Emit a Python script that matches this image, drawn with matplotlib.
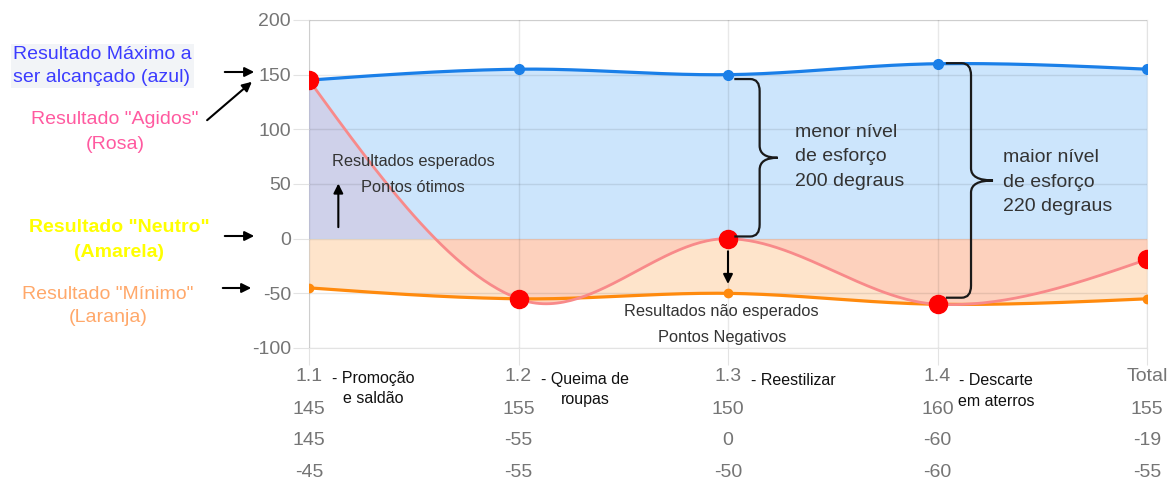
import numpy as np
import matplotlib
matplotlib.use('Agg')
import matplotlib.pyplot as plt
from matplotlib.path import Path
from matplotlib.patches import PathPatch, FancyArrowPatch
import matplotlib.transforms as mtransforms

plt.rcParams['font.family'] = ['Liberation Sans', 'DejaVu Sans']
plt.rcParams['axes.unicode_minus'] = False

categorias = ['1.1', '1.2', '1.3', '1.4', 'Total']
descricoes = ['- Promoção\ne saldão', '- Queima de\nroupas', '- Reestilizar',
              '- Descarte\nem aterros', '']
maximo = [145, 155, 150, 160, 155]    # azul
agidos = [145, -55, 0, -60, -19]      # rosa
minimo = [-45, -55, -50, -60, -55]    # laranja
y_ticks = [-100, -50, 0, 50, 100, 150, 200]

W, H = 1175, 487


def suave(ys, n=60):
    # curva cubica que passa pelos pontos (tangentes tipo catmull-rom)
    ys = np.asarray(ys, float)
    k = len(ys)
    m = np.zeros(k)
    m[1:-1] = (ys[2:] - ys[:-2]) / 2
    m[0] = (3 * (ys[1] - ys[0]) - m[1]) / 2
    m[-1] = (3 * (ys[-1] - ys[-2]) - m[-2]) / 2
    xs_out, ys_out = [], []
    for i in range(k - 1):
        t = np.linspace(0, 1, n, endpoint=(i == k - 2))
        h00 = 2 * t**3 - 3 * t**2 + 1
        h10 = t**3 - 2 * t**2 + t
        h01 = -2 * t**3 + 3 * t**2
        h11 = t**3 - t**2
        xs_out.append(i + t)
        ys_out.append(h00 * ys[i] + h10 * m[i] + h01 * ys[i + 1] + h11 * m[i + 1])
    return np.concatenate(xs_out), np.concatenate(ys_out)


def chave(ax, x0, yt, yb, xbar, xtip, rx=0.045, ry=11):
    ym = (yt + yb) / 2
    verts = [(x0, yt), (xbar - rx, yt), (xbar, yt), (xbar, yt - ry),
             (xbar, ym + ry), (xbar, ym), (xtip, ym),
             (xbar, ym), (xbar, ym - ry),
             (xbar, yb + ry), (xbar, yb), (xbar - rx, yb), (x0, yb)]
    codes = [Path.MOVETO, Path.LINETO, Path.CURVE3, Path.CURVE3,
             Path.LINETO, Path.CURVE3, Path.CURVE3,
             Path.CURVE3, Path.CURVE3,
             Path.LINETO, Path.CURVE3, Path.CURVE3, Path.LINETO]
    ax.add_patch(PathPatch(Path(verts, codes), fill=False, lw=1.6,
                           edgecolor='#1a1a1a', zorder=6))


fig = plt.figure(figsize=(W / 100, H / 100), dpi=100)
ax = fig.add_axes([309 / W, 1 - 348 / H, 838 / W, 328 / H])

x = np.arange(len(categorias))
xb, yb_ = suave(maximo)
xp, yp = suave(agidos)
xo, yo = suave(minimo)

# areas
ax.fill_between(xb, 0, yb_, color='#cce5fc', lw=0, zorder=1)
ax.fill_between(xo, yo, 0, color='#fee4cb', lw=0, zorder=1)
ax.fill_between(xp, 0, yp, where=yp >= 0, interpolate=True,
                color='#cfd1ea', lw=0, zorder=1.1)
ax.fill_between(xp, yp, 0, where=yp <= 0, interpolate=True,
                color='#fdd1bd', lw=0, zorder=1.1)

# linhas
ax.plot(xb, yb_, color='#1a7fe8', lw=2.3, zorder=4, solid_capstyle='round')
ax.plot(xo, yo, color='#ff8a0d', lw=2.3, zorder=4, solid_capstyle='round')
ax.plot(xp, yp, color='#f88a8a', lw=2.0, zorder=4)
ax.plot(x, maximo, 'o', color='#1a7fe8', ms=7, zorder=5)
ax.plot(x, minimo, 'o', color='#ff8a0d', ms=6, zorder=5)
ax.plot(x, agidos, 'o', color='#ff0000', ms=13, zorder=6)

ax.set_xlim(0, len(categorias) - 1)
ax.set_ylim(-100, 200)
ax.set_yticks(y_ticks)
ax.set_xticks(x)
ax.set_xticklabels([])
ax.grid(True, color='#000000', alpha=0.09, lw=1)
ax.set_axisbelow(False)
ax.tick_params(axis='y', length=11.5, color='#e3e3e3', pad=1.5,
               labelsize=14, labelcolor='#757575')
ax.tick_params(axis='x', length=12, color='#e3e3e3')
for s in ax.spines.values():
    s.set_color('#e3e3e3')
    s.set_zorder(0.5)

# linhas da tabela abaixo do eixo
tr = mtransforms.blended_transform_factory(ax.transData, ax.transAxes)
linhas = [categorias, maximo, agidos, minimo]
for row, yy in zip(linhas, [-0.0854, -0.186, -0.2835, -0.381]):
    for i, v in enumerate(row):
        ax.text(i, yy, str(v), transform=tr, ha='center', va='center',
                fontsize=14, color='#757575')

desc_x = [0.305, 1.318, 2.31, 3.28, 0]
desc_y = [-0.07, -0.072, -0.077, -0.077, 0]
for d, dx, dy in zip(descricoes, desc_x, desc_y):
    if d:
        ax.text(dx, dy, d, transform=tr, ha='center', va='top',
                fontsize=11.5, color='#111111', linespacing=1.45)

# textos internos
txt = dict(ha='center', va='center', fontsize=11.8, color='#333333', zorder=7)
ax.text(0.496, 71, 'Resultados esperados', **txt)
ax.text(0.496, 47, 'Pontos ótimos', **txt)
ax.text(1.97, -66.5, 'Resultados não esperados', **txt)
ax.text(1.97, -90.5, 'Pontos Negativos', **txt)

seta = dict(arrowstyle='-|>', color='black', lw=1.5, mutation_scale=14)
ax.annotate('', xy=(0.14, 53), xytext=(0.14, 8), arrowprops=seta, zorder=7)
ax.annotate('', xy=(2.0, -44), xytext=(2.0, -9), arrowprops=seta, zorder=7)

chave(ax, 2.03, 146, 2, 2.151, 2.237)
chave(ax, 3.04, 160.5, -54, 3.16, 3.265)
ax.text(2.32, 74.7, 'menor nível\nde esforço\n200 degraus', ha='left',
        va='center', fontsize=14, color='#333333', linespacing=1.58, zorder=7)
ax.text(3.313, 51.8, 'maior nível\nde esforço\n220 degraus', ha='left',
        va='center', fontsize=14, color='#333333', linespacing=1.58, zorder=7)


# legenda lateral
def fx(px):
    return px / W


def fy(py):
    return 1 - py / H


fig.text(fx(13), fy(66), 'Resultado Máximo a\nser alcançado (azul)',
         ha='left', va='center', fontsize=14, color='#3b3bff',
         linespacing=1.45,
         bbox=dict(facecolor='#f2f4f7', edgecolor='none', pad=1.5))
fig.text(fx(115), fy(132), 'Resultado "Agidos"\n(Rosa)', ha='center',
         va='center', fontsize=14, color='#ff5aa0', linespacing=1.6)
fig.text(fx(119), fy(240), 'Resultado "Neutro"\n(Amarela)', ha='center',
         va='center', fontsize=14, color='#ffff00', fontweight='bold',
         linespacing=1.55)
fig.text(fx(108), fy(306), 'Resultado "Mínimo"\n(Laranja)', ha='center',
         va='center', fontsize=14, color='#ffa86a', linespacing=1.5)

setas = [((222, 72), (257, 72)), ((205, 122), (254, 80)),
         ((222, 236), (257, 236)), ((220, 288), (254, 288))]
for (x0, y0), (x1, y1) in setas:
    fig.add_artist(FancyArrowPatch(
        (fx(x0), fy(y0)), (fx(x1), fy(y1)), transform=fig.transFigure,
        arrowstyle='-|>', mutation_scale=14, color='black', lw=1.5))

plt.savefig('out.png', dpi=100)
